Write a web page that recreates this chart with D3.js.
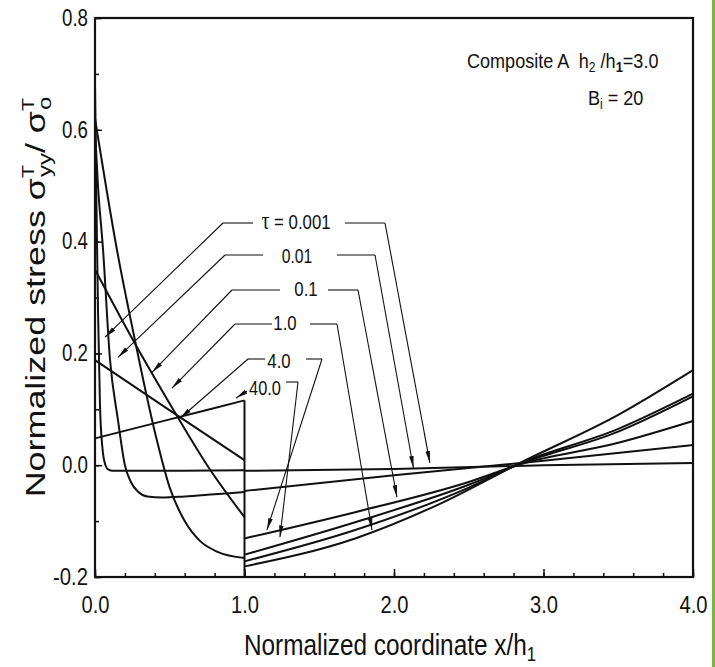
<!DOCTYPE html>
<html>
<head>
<meta charset="utf-8">
<script src="https://cdn.jsdelivr.net/npm/d3@7"></script>
<style>
  body { margin: 0; background: #fff; }
  text { font-family: "Liberation Sans", Arial, sans-serif; fill: #111; }
</style>
</head>
<body>
<svg id="chart" width="715" height="667"></svg>
<script>
// ---- data ----
const xTicks = [0, 1, 2, 3, 4];
const xTickLabels = ["0.0", "1.0", "2.0", "3.0", "4.0"];
const yTicks = [-0.2, 0, 0.2, 0.4, 0.6, 0.8];
const yTickLabels = ["-0.2", "0.0", "0.2", "0.4", "0.6", "0.8"];
const tauLabels = ["0.001", "0.01", "0.1", "1.0", "4.0", "40.0"];

// layer 1 : 0 <= x/h1 <= 1
const tau0001L1 = [[0, 0.68], [0.01, 0.46], [0.02, 0.28], [0.033, 0.11], [0.05, 0.03], [0.07, 0.0], [0.09, -0.008], [0.12, -0.01], [0.5, -0.01], [1, -0.009]];
const tau001L1 = [[0, 0.6], [0.02, 0.5], [0.054, 0.385], [0.1, 0.19], [0.154, 0.08], [0.2, 0.0], [0.24, -0.03], [0.29, -0.048], [0.35, -0.056], [0.45, -0.058], [0.6, -0.056], [0.8, -0.052], [1, -0.048]];
const tau01L1 = [[0, 0.62], [0.147, 0.385], [0.27, 0.22], [0.4, 0.06], [0.5, -0.04], [0.6, -0.1], [0.7, -0.135], [0.82, -0.155], [1, -0.166]];
const tau1L1 = [[0, 0.35], [0.254, 0.224], [0.5, 0.11], [0.75, 0.0], [1, -0.093]];
const tau4L1 = [[0, 0.188], [0.5, 0.098], [1, 0.009]];
const tau40L1 = [[0, 0.048], [0.5, 0.082], [1, 0.116]];

// layer 2 : 1 <= x/h1 <= 4
const tau0001L2 = [[1, -0.01], [2, -0.007], [3, 0.0], [4, 0.004]];
const tau001L2 = [[1, -0.046], [2, -0.018], [3, 0.008], [4, 0.036]];
const tau01L2 = [[1, -0.181], [1.74, -0.131], [2.3, -0.07], [2.85, 0.005], [3.5, 0.09], [4, 0.17]];
const tau1L2 = [[1, -0.172], [1.74, -0.116], [2.5, -0.04], [2.85, 0.004], [3.5, 0.065], [4, 0.128]];
const tau4L2 = [[1, -0.131], [1.74, -0.084], [2.5, -0.03], [2.85, 0.002], [3.5, 0.04], [4, 0.079]];
const tau40L2 = [[1, -0.16], [1.74, -0.102], [2.5, -0.035], [2.85, 0.003], [3.5, 0.06], [4, 0.123]];

// arrow tips on the curves (data units)
const arrowL1 = [[0.067, 0.229], [0.154, 0.193], [0.381, 0.166], [0.515, 0.138], [0.569, 0.084], [0.943, 0.12]];
const arrowL2 = [[2.24, 0.004], [2.13, -0.005], [2.02, -0.057], [1.853, -0.116], [1.15, -0.116], [1.237, -0.129]];

const layer1 = [tau0001L1, tau001L1, tau01L1, tau1L1, tau4L1, tau40L1];
const layer2 = [tau0001L2, tau001L2, tau01L2, tau1L2, tau4L2, tau40L2];

// label placement (pixels)
const labelLayout = [
  { cx: 296, by: 229, sx: 0.8, segY: 223, left: [223, 253], right: [345, 385], prefix: true },
  { cx: 297, by: 263, sx: 0.75, segY: 255, left: [225, 263], right: [337, 375] },
  { cx: 306, by: 296, sx: 0.8, segY: 290, left: [232, 280], right: [328, 358] },
  { cx: 285, by: 330, sx: 0.8, segY: 324, left: [235, 272], right: [310, 337] },
  { cx: 279, by: 368, sx: 0.8, segY: 359, left: [248, 265], right: [306, 322] },
  { cx: 265, by: 395, sx: 0.78, segY: 382, left: [247, 247], right: [286, 298], leftY: 391 }
];

const svg = d3.select("#chart");
const margin = { top: 18, right: 22, bottom: 90, left: 95 };
const W = 715, H = 667;

const x = d3.scaleLinear().domain([0, 4]).range([margin.left, W - margin.right]);
const y = d3.scaleLinear().domain([-0.2, 0.8]).range([H - margin.bottom, margin.top]);

function squeeze(sel, w) {
  sel.attr("textLength", w).attr("lengthAdjust", "spacingAndGlyphs");
}

// green edge of the scan
svg.append("rect").attr("x", 712).attr("y", 0).attr("width", 3).attr("height", H).attr("fill", "#7cb342");

// minor ticks
svg.append("g")
  .attr("transform", `translate(0,${y(-0.2)})`)
  .call(d3.axisBottom(x).tickValues(d3.range(0, 4.01, 0.2)).tickSize(-4).tickFormat("").tickSizeOuter(0))
  .call(g => g.select(".domain").remove());
svg.append("g")
  .attr("transform", `translate(${x(0)},0)`)
  .call(d3.axisLeft(y).tickValues(d3.range(-0.2, 0.81, 0.1)).tickSize(-4).tickFormat("").tickSizeOuter(0))
  .call(g => g.select(".domain").remove());

// major axes
const xAxis = svg.append("g")
  .attr("transform", `translate(0,${y(-0.2)})`)
  .call(d3.axisBottom(x).tickValues(xTicks).tickSize(-8).tickSizeOuter(0).tickPadding(20)
    .tickFormat((d, i) => xTickLabels[i]));
xAxis.selectAll("text").style("font-size", "23px").each(function () { squeeze(d3.select(this), 28); });

const yAxis = svg.append("g")
  .attr("transform", `translate(${x(0)},0)`)
  .call(d3.axisLeft(y).tickValues(yTicks).tickSize(-7).tickSizeOuter(0).tickPadding(7)
    .tickFormat((d, i) => yTickLabels[i]));
yAxis.selectAll("text").style("font-size", "23px")
  .each(function (d) { squeeze(d3.select(this), d < 0 ? 35 : 26); });

svg.selectAll(".tick line").attr("stroke", "#111").attr("stroke-width", 1.5);
svg.selectAll(".domain").attr("stroke", "#111");

// frame
svg.append("rect")
  .attr("x", x(0)).attr("y", y(0.8))
  .attr("width", x(4) - x(0)).attr("height", y(-0.2) - y(0.8))
  .attr("fill", "none").attr("stroke", "#111").attr("stroke-width", 2.2);

// curves
const line = d3.line().x(d => x(d[0])).y(d => y(d[1])).curve(d3.curveMonotoneX);
const curves = svg.append("g").attr("fill", "none").attr("stroke", "#111").attr("stroke-width", 2);
layer1.forEach(s => curves.append("path").attr("d", line(s)));
layer2.forEach(s => curves.append("path").attr("d", line(s)));
// interface at x/h1 = 1
curves.append("line")
  .attr("x1", x(1)).attr("x2", x(1))
  .attr("y1", y(d3.max(layer1, s => s[s.length - 1][1])))
  .attr("y2", y(-0.2));

// arrows and labels
svg.append("defs").append("marker")
  .attr("id", "head").attr("viewBox", "0 -3 12 6")
  .attr("refX", 12).attr("refY", 0)
  .attr("markerWidth", 12).attr("markerHeight", 6)
  .attr("markerUnits", "userSpaceOnUse").attr("orient", "auto")
  .append("path").attr("d", "M0,-2.3L12,0L0,2.3Z").attr("fill", "#111");

const ann = svg.append("g").attr("stroke", "#111").attr("stroke-width", 1.1).attr("fill", "none");
labelLayout.forEach((L, i) => {
  const ly = L.leftY || L.segY;
  ann.append("line").attr("x1", L.left[0]).attr("x2", L.left[1]).attr("y1", ly).attr("y2", ly);
  ann.append("line").attr("x1", L.left[0]).attr("y1", ly)
    .attr("x2", x(arrowL1[i][0])).attr("y2", y(arrowL1[i][1])).attr("marker-end", "url(#head)");
  ann.append("line").attr("x1", L.right[0]).attr("x2", L.right[1]).attr("y1", L.segY).attr("y2", L.segY);
  ann.append("line").attr("x1", L.right[1]).attr("y1", L.segY)
    .attr("x2", x(arrowL2[i][0])).attr("y2", y(arrowL2[i][1])).attr("marker-end", "url(#head)");

  const t = svg.append("text")
    .attr("transform", `translate(${L.cx},${L.by}) scale(${L.sx},1)`)
    .attr("text-anchor", "middle").style("font-size", "21px");
  if (L.prefix) {
    t.append("tspan").style("font-family", "'Liberation Serif', serif").style("font-size", "25px").text("τ");
    t.append("tspan").text(" = " + tauLabels[i]);
  } else {
    t.text(tauLabels[i]);
  }
});

// top-right note (narrow lettering of the scan -> horizontal scale)
const note = svg.append("text").attr("transform", "translate(467,68) scale(0.86,1)").style("font-size", "21px");
note.append("tspan").text("Composite A");
note.append("tspan").attr("dx", 11).text("h");
note.append("tspan").attr("dy", 4).style("font-size", "14px").text("2");
note.append("tspan").attr("dy", -4).text(" /h");
note.append("tspan").attr("dy", 4).style("font-size", "15px").style("font-weight", "bold").text("1");
note.append("tspan").attr("dy", -4).text("=3.0");

const bi = svg.append("text").attr("transform", "translate(588,105) scale(0.86,1)").style("font-size", "21px");
bi.append("tspan").text("B");
bi.append("tspan").attr("dy", 4).style("font-size", "14px").text("i");
bi.append("tspan").attr("dy", -4).text(" = 20");

// axis titles
const xt = svg.append("text").attr("transform", "translate(390,655) scale(0.84,1)")
  .attr("text-anchor", "middle").style("font-size", "29px");
xt.append("tspan").text("Normalized coordinate x/h");
xt.append("tspan").attr("dy", 6).style("font-size", "20px").text("1");

const yt = svg.append("text")
  .attr("transform", "translate(45,297) rotate(-90) scale(1.33,1)")
  .attr("text-anchor", "middle").style("font-size", "27px");
yt.append("tspan").text("Normalized stress σ");
yt.append("tspan").attr("dy", -11).style("font-size", "16px").text("T");
yt.append("tspan").attr("dx", -9).attr("dy", 17).style("font-size", "18px").text("yy");
yt.append("tspan").attr("dy", -6).text("/ σ");
yt.append("tspan").attr("dy", -11).style("font-size", "16px").text("T");
yt.append("tspan").attr("dx", -9).attr("dy", 17).style("font-size", "18px").text("o");
</script>
</body>
</html>
